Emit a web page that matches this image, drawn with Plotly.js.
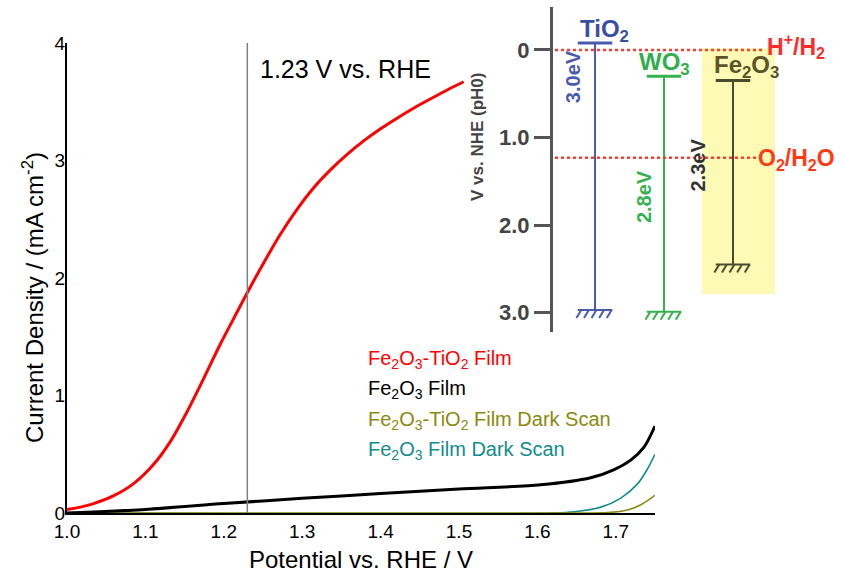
<!DOCTYPE html>
<html>
<head>
<meta charset="utf-8">
<script src="https://cdn.plot.ly/plotly-3.0.1.min.js"></script>
<style>html,body{margin:0;padding:0;background:#fff}#chart{width:846px;height:573px}</style>
</head>
<body>
<div id="chart"></div>
<script>
// ---------- main chart data ----------
const seriesNames = ['Fe<sub>2</sub>O<sub>3</sub>-TiO<sub>2</sub> Film', 'Fe<sub>2</sub>O<sub>3</sub> Film',
  'Fe<sub>2</sub>O<sub>3</sub>-TiO<sub>2</sub> Film Dark Scan', 'Fe<sub>2</sub>O<sub>3</sub> Film Dark Scan'];
const potFeTi = [1.000,1.017,1.034,1.059,1.085,1.110,1.132,1.153,1.174,1.195,1.217,1.232,1.251,1.272,1.293,1.315,1.336,1.357,1.378,1.400,1.421,1.442,1.464,1.485,1.506];
const jFeTi   = [0.03,0.05,0.08,0.145,0.25,0.41,0.61,0.86,1.14,1.43,1.71,1.90,2.13,2.37,2.58,2.77,2.92,3.05,3.165,3.27,3.36,3.445,3.525,3.60,3.67];
const potFe = [1.0,1.1,1.2,1.3,1.4,1.5,1.604,1.668,1.698,1.719,1.736,1.75];
const jFe   = [0.0,0.03,0.08,0.125,0.165,0.205,0.24,0.30,0.37,0.45,0.56,0.74];
const potFeTiDark = [1.0,1.66,1.689,1.715,1.732,1.75];
const jFeTiDark   = [0,0,0.003,0.025,0.07,0.15];
const potFeDark = [1.0,1.62,1.647,1.681,1.706,1.728,1.74,1.75];
const jFeDark   = [0,0,0.01,0.05,0.125,0.25,0.37,0.50];
const xTicks = [1.0,1.1,1.2,1.3,1.4,1.5,1.6,1.7];
const xTickText = ['1.0','1.1','1.2','1.3','1.4','1.5','1.6','1.7'];
const yTicks = [0,1,2,3,4];
const refPotential = 1.23;

// ---------- inset (band diagram) data ----------
const materials = ['TiO<sub>2</sub>','WO<sub>3</sub>','Fe<sub>2</sub>O<sub>3</sub>'];
const cbEdge = [-0.08, 0.30, 0.35];
const vbEdge = [2.97, 2.99, 2.45];
const gapLabels = ['3.0eV','2.8eV','2.3eV'];
const redoxNames = ['H<sup>+</sup>/H<sub>2</sub>','O<sub>2</sub>/H<sub>2</sub>O'];
const redoxPotentials = [0, 1.23];
const insetTicks = [0,1,2,3];
const insetTickText = ['0','1.0','2.0','3.0'];

// ---------- styles ----------
const FONT = 'Liberation Sans, Arial, sans-serif';
const seriesColors = ['#ff0000','#000000','#8a8a10','#138c8c'];
const seriesWidths = [3,3,1.6,1.6];
const matColors = ['#4a5aac','#35b24f','#4b4a2c'];
const matLabelColors = ['#3a4ea2','#2fae4c','#5a5426'];
const redoxColors = ['#ff2a2a','#ff3a16'];

const traces = [];
const seriesX = [potFeTi, potFe, potFeTiDark, potFeDark];
const seriesY = [jFeTi, jFe, jFeTiDark, jFeDark];
[3,2,1,0].forEach(k => {
  traces.push({x: seriesX[k], y: seriesY[k], type:'scatter', mode:'lines', name: seriesNames[k],
    line:{color: seriesColors[k], width: seriesWidths[k], shape:'spline', smoothing:0.8},
    xaxis:'x', yaxis:'y', showlegend:false, hoverinfo:'skip'});
});

// inset traces
materials.forEach((m,i) => {
  traces.push({x:[i,i], y:[cbEdge[i], vbEdge[i]], mode:'lines', line:{color:matColors[i], width:2},
    xaxis:'x2', yaxis:'y2', showlegend:false, hoverinfo:'skip'});
  traces.push({x:[i-0.25,i+0.25], y:[cbEdge[i], cbEdge[i]], mode:'lines', line:{color:matColors[i], width:3},
    xaxis:'x2', yaxis:'y2', showlegend:false, hoverinfo:'skip'});
  const hx = [i-0.25, i+0.25, null], hy = [vbEdge[i], vbEdge[i], null];
  for (let k=0;k<5;k++){
    const x0 = i-0.27 + k*0.11;
    hx.push(x0, x0+0.07, null);
    hy.push(vbEdge[i]+0.09, vbEdge[i], null);
  }
  traces.push({x:hx, y:hy, mode:'lines', line:{color:matColors[i], width:2},
    xaxis:'x2', yaxis:'y2', showlegend:false, hoverinfo:'skip'});
});
const redoxEnds = [2.46, 2.35];
redoxPotentials.forEach((p,k) => {
  traces.push({x:[-0.58, redoxEnds[k]], y:[p,p], mode:'lines', line:{color:'#ff3b30', width:2.5, dash:'dot'},
    xaxis:'x2', yaxis:'y2', showlegend:false, hoverinfo:'skip'});
});

const annotations = [];
annotations.push({x:1.243, y:3.78, xref:'x', yref:'y', text:refPotential.toFixed(2)+' V vs. RHE', showarrow:false,
  xanchor:'left', yanchor:'middle', font:{family:FONT, size:25, color:'#000'}});
const legendY = [1.31, 1.05, 0.79, 0.53];
seriesNames.forEach((n,k) => {
  annotations.push({x:1.381, y:legendY[k], xref:'x', yref:'y', text:n, showarrow:false, xanchor:'left', yanchor:'middle',
    font:{family:FONT, size:20, color:seriesColors[k]}});
});
annotations.push({xref:'paper', yref:'paper', x:-0.0436, y:0.425, text:'Current Density / (mA cm<sup>-2</sup>)',
  showarrow:false, textangle:-90, xanchor:'center', yanchor:'middle', font:{family:FONT, size:24, color:'#000'}});
annotations.push({xref:'paper', yref:'paper', x:0.5263, y:0.743, text:'V vs. NHE (pH0)', showarrow:false, textangle:-90,
  xanchor:'center', yanchor:'middle', font:{family:FONT, size:17, color:'#444', weight:'bold'}});
const matLabelPos = [[0.14,-0.22],[1.01,0.15],[2.19,0.19]];
materials.forEach((m,i) => {
  annotations.push({xref:'x2', yref:'y2', x:matLabelPos[i][0], y:matLabelPos[i][1], text:m, showarrow:false,
    xanchor:'center', yanchor:'middle', font:{family:FONT, size:24, color:matLabelColors[i], weight:'bold'}});
});
const gapPos = [[-0.32,0.30],[0.71,1.68],[1.49,1.31]];
const gapColors = ['#4a5aac','#35b24f','#333333'];
gapLabels.forEach((g,i) => {
  annotations.push({xref:'x2', yref:'y2', x:gapPos[i][0], y:gapPos[i][1], text:g, showarrow:false, textangle:-90,
    xanchor:'center', yanchor:'middle', font:{family:FONT, size:20, color:gapColors[i], weight:'bold'}});
});
const redoxLabelX = [2.47, 2.34];
redoxNames.forEach((r,k) => {
  annotations.push({xref:'x2', yref:'y2', x:redoxLabelX[k], y:redoxPotentials[k] + (k===0?-0.04:0.02), text:r, showarrow:false,
    xanchor:'left', yanchor:'middle', font:{family:FONT, size:23, color:redoxColors[k], weight:'bold'}});
});

const layout = {
  width:846, height:573,
  margin:{l:67, r:0, t:7, b:60, pad:0},
  paper_bgcolor:'#fff', plot_bgcolor:'rgba(0,0,0,0)',
  font:{family:FONT, color:'#000'},
  showlegend:false,
  xaxis:{domain:[0,0.7548], range:[1.0,1.75], tickvals:xTicks, ticktext:xTickText, ticks:'',
    showline:true, linecolor:'#000', linewidth:2, showgrid:false, zeroline:false,
    tickfont:{family:FONT, size:19, color:'#000'},
    title:{text:'Potential vs. RHE / V', font:{family:FONT, size:24, color:'#000'}, standoff:10}},
  yaxis:{domain:[0,0.9289], range:[0,4], tickvals:yTicks, ticks:'', showline:true, linecolor:'#000', linewidth:2,
    showgrid:false, zeroline:false, ticklabelstandoff:-4, tickfont:{family:FONT, size:19, color:'#000'}},
  xaxis2:{domain:[0.6239,1], range:[-0.609,3.638], anchor:'y2', visible:false, showgrid:false, zeroline:false},
  yaxis2:{domain:[0.3577,1], range:[3.22,-0.49], anchor:'x2', tickvals:insetTicks, ticktext:insetTickText,
    ticks:'outside', ticklen:16, tickwidth:3, tickcolor:'#555', showline:true, linecolor:'#555', linewidth:3,
    showgrid:false, zeroline:false, tickfont:{family:FONT, size:22, color:'#444', weight:'bold'}},
  shapes:[
    {type:'line', xref:'x', yref:'y', x0:refPotential, x1:refPotential, y0:0, y1:4, line:{color:'#808080', width:1.5}},
    {type:'rect', xref:'x2', yref:'y2', x0:1.55, x1:2.61, y0:-0.02, y1:2.79, fillcolor:'rgb(253,250,182)', line:{width:0}, layer:'below'}
  ],
  annotations:annotations
};
Plotly.newPlot('chart', traces, layout, {displayModeBar:false, staticPlot:true});
</script>
</body>
</html>
